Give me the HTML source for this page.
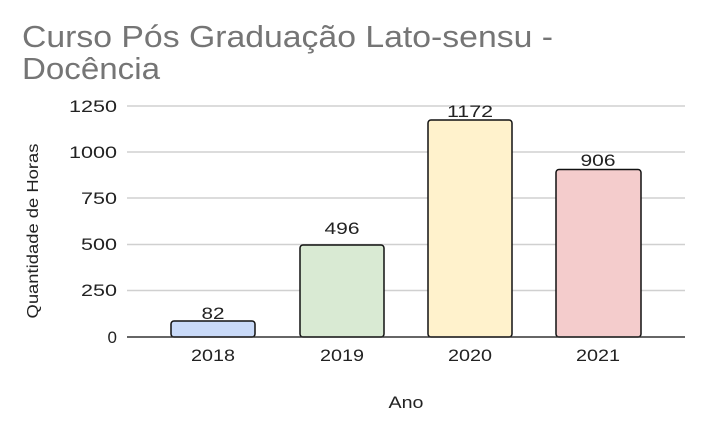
<!DOCTYPE html>
<html><head><style>body{margin:0;background:#fff}</style></head><body>
<svg width="708" height="432" xmlns="http://www.w3.org/2000/svg" font-family="Liberation Sans, Arial, sans-serif">
<rect width="708" height="432" fill="#fff"/>
<text x="22" y="47" font-size="31" fill="#757575" textLength="531" lengthAdjust="spacingAndGlyphs">Curso Pós Graduação Lato-sensu -</text>
<text x="22" y="79" font-size="31" fill="#757575" textLength="138" lengthAdjust="spacingAndGlyphs">Docência</text>
<g stroke="#d0d0d0" stroke-width="1.5">
<line x1="127" x2="685" y1="106" y2="106"/>
<line x1="127" x2="685" y1="152" y2="152"/>
<line x1="127" x2="685" y1="198" y2="198"/>
<line x1="127" x2="685" y1="244.5" y2="244.5"/>
<line x1="127" x2="685" y1="290.5" y2="290.5"/>
</g>
<g font-size="17" fill="#222" text-anchor="end">
<text x="117" y="112" textLength="48" lengthAdjust="spacingAndGlyphs">1250</text>
<text x="117" y="158" textLength="48" lengthAdjust="spacingAndGlyphs">1000</text>
<text x="117" y="204" textLength="36" lengthAdjust="spacingAndGlyphs">750</text>
<text x="117" y="250" textLength="36" lengthAdjust="spacingAndGlyphs">500</text>
<text x="117" y="296" textLength="36" lengthAdjust="spacingAndGlyphs">250</text>
<text x="117" y="343">0</text>
</g>
<g stroke="#111" stroke-width="1.5">
<rect x="171" y="321" width="84" height="16" rx="3" fill="#c9daf8"/>
<rect x="300" y="245" width="84" height="92" rx="3" fill="#d9ead3"/>
<rect x="428" y="120" width="84" height="217" rx="3" fill="#fff2cc"/>
<rect x="556" y="169.5" width="85" height="167.5" rx="3" fill="#f4cccc"/>
</g>
<line x1="127" x2="685" y1="337" y2="337" stroke="#333" stroke-width="1.5"/>
<g font-size="17" fill="#222" text-anchor="middle">
<text x="213" y="319" textLength="23" lengthAdjust="spacingAndGlyphs">82</text>
<text x="342" y="234" textLength="35" lengthAdjust="spacingAndGlyphs">496</text>
<text x="470" y="117" textLength="46" lengthAdjust="spacingAndGlyphs">1172</text>
<text x="598" y="166" textLength="35" lengthAdjust="spacingAndGlyphs">906</text>
<text x="213" y="361" textLength="44" lengthAdjust="spacingAndGlyphs">2018</text>
<text x="342" y="361" textLength="44" lengthAdjust="spacingAndGlyphs">2019</text>
<text x="470" y="361" textLength="44" lengthAdjust="spacingAndGlyphs">2020</text>
<text x="598" y="361" textLength="44" lengthAdjust="spacingAndGlyphs">2021</text>
<text x="406" y="408" textLength="35" lengthAdjust="spacingAndGlyphs">Ano</text>
<text transform="translate(38 231) rotate(-90)" font-size="16" textLength="175" lengthAdjust="spacingAndGlyphs">Quantidade de Horas</text>
</g>
</svg>
</body></html>
